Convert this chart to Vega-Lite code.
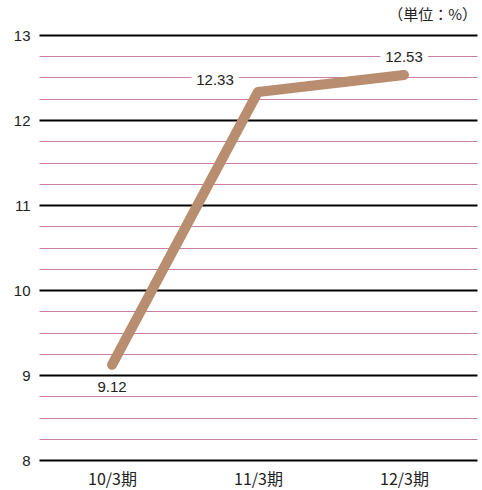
{
  "$schema": "https://vega.github.io/schema/vega-lite/v6.json",
  "width": 438,
  "height": 425,
  "autosize": {"type": "none"},
  "padding": {"left": 39, "top": 35, "right": 5, "bottom": 30},
  "background": "white",
  "title": {"text": "（単位：%）", "anchor": "end", "fontSize": 15, "fontWeight": "normal", "font": "Noto Sans CJK JP", "color": "#222", "offset": 5},
  "config": {"view": {"stroke": null}, "font": "Liberation Sans"},
  "data": {"values": [
    {"period": "10/3期", "value": 9.12},
    {"period": "11/3期", "value": 12.33},
    {"period": "12/3期", "value": 12.53}
  ]},
  "encoding": {
    "x": {"field": "period", "type": "ordinal", "sort": null, "scale": {"type": "point", "padding": 0.5},
      "axis": {"title": null, "domain": false, "ticks": false, "labelAngle": 0, "labelFontSize": 16, "labelColor": "#222", "labelPadding": 11, "labelFont": "Noto Sans CJK JP", "grid": false}},
    "y": {"field": "value", "type": "quantitative", "scale": {"domain": [8, 13], "nice": false, "zero": false},
      "axis": {"title": null, "domain": false, "ticks": false,
        "values": [8, 8.25, 8.5, 8.75, 9, 9.25, 9.5, 9.75, 10, 10.25, 10.5, 10.75, 11, 11.25, 11.5, 11.75, 12, 12.25, 12.5, 12.75, 13],
        "labelExpr": "datum.value % 1 === 0 ? format(datum.value, 'd') : ''",
        "labelOverlap": false,
        "labelFontSize": 15, "labelColor": "#222", "labelPadding": 9,
        "grid": true,
        "gridColor": {"condition": {"test": "datum.value % 1 === 0", "value": "#000000"}, "value": "#c97fa5"},
        "gridWidth": {"condition": {"test": "datum.value % 1 === 0", "value": 2}, "value": 1.2},
        "gridOpacity": 1}}
  },
  "layer": [
    {"mark": {"type": "line", "color": "#b98d70", "strokeWidth": 10, "strokeCap": "round", "strokeJoin": "round"}},
    {"transform": [{"filter": "datum.period === '10/3期'"}],
      "mark": {"type": "text", "dy": 22, "fontSize": 15, "color": "#222"},
      "encoding": {"text": {"field": "value", "type": "quantitative", "format": ".2f"}}},
    {"transform": [{"filter": "datum.period === '11/3期'"}],
      "mark": {"type": "text", "dx": -43, "dy": -12, "fontSize": 15, "color": "white", "stroke": "white", "strokeWidth": 12},
      "encoding": {"text": {"field": "value", "type": "quantitative", "format": ".2f"}}},
    {"transform": [{"filter": "datum.period === '11/3期'"}],
      "mark": {"type": "text", "dx": -43, "dy": -12, "fontSize": 15, "color": "#222"},
      "encoding": {"text": {"field": "value", "type": "quantitative", "format": ".2f"}}},
    {"transform": [{"filter": "datum.period === '12/3期'"}],
      "mark": {"type": "text", "dy": -18, "fontSize": 15, "color": "white", "stroke": "white", "strokeWidth": 12},
      "encoding": {"text": {"field": "value", "type": "quantitative", "format": ".2f"}}},
    {"transform": [{"filter": "datum.period === '12/3期'"}],
      "mark": {"type": "text", "dy": -18, "fontSize": 15, "color": "#222"},
      "encoding": {"text": {"field": "value", "type": "quantitative", "format": ".2f"}}}
  ]
}
